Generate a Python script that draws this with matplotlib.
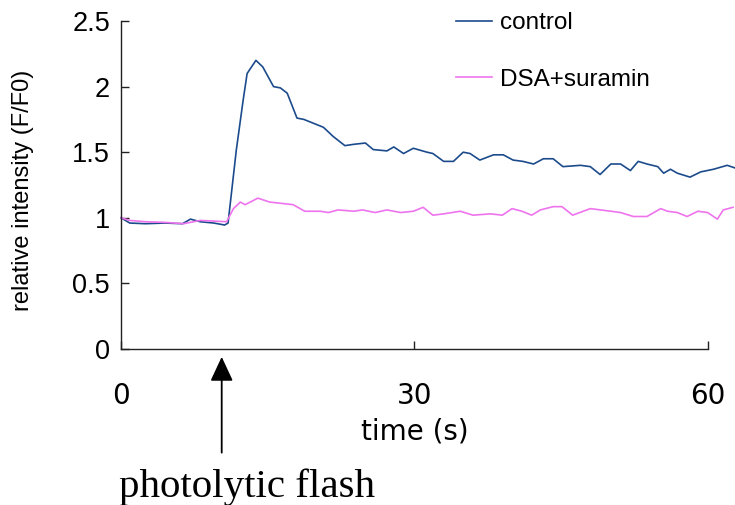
import matplotlib
matplotlib.use('Agg')
import matplotlib.pyplot as plt

# time (s) and F/F0
t_control = [0, 0.9, 2.5, 4.5, 6.3, 7.1, 8.1, 9.5, 10.6, 10.95,
             11.8, 12.5, 12.9, 13.8, 14.5, 15.6, 16.3, 17.0, 18.0, 18.7,
             20.7, 21.7, 22.9, 23.8, 25.0, 25.8, 27.2, 27.9, 28.9, 29.9,
             31.3, 31.9, 33.0, 34.0, 35.0, 35.7, 36.7, 38.1, 39.1, 40.1,
             41.1, 42.2, 43.2, 44.2, 45.2, 47.0, 48.0, 49.0, 50.1, 51.1,
             52.1, 52.9, 53.8, 54.9, 55.5, 56.2, 56.9, 58.2, 59.3, 60.6,
             62.0, 62.8]
control = [1.00, 0.96, 0.955, 0.96, 0.955, 0.99, 0.97, 0.96, 0.945, 0.96,
           1.52, 1.90, 2.10, 2.20, 2.15, 2.00, 1.99, 1.95, 1.76, 1.75,
           1.69, 1.62, 1.55, 1.56, 1.57, 1.52, 1.51, 1.54, 1.49, 1.53,
           1.50, 1.49, 1.43, 1.43, 1.50, 1.49, 1.44, 1.48, 1.48, 1.44,
           1.43, 1.41, 1.45, 1.45, 1.39, 1.40, 1.39, 1.33, 1.41, 1.41,
           1.36, 1.43, 1.41, 1.39, 1.34, 1.37, 1.34, 1.31, 1.35, 1.37,
           1.40, 1.38]

t_dsa = [0, 0.9, 2.5, 4.5, 6.4, 8.1, 9.5, 10.8,
         11.5, 12.2, 12.7, 14.0, 15.2, 17.6, 18.8, 20.4, 21.2, 22.2,
         23.8, 24.7, 26.0, 27.2, 28.6, 29.9, 30.9, 31.9, 33.0, 34.7,
         36.0, 37.8, 39.0, 40.0, 41.0, 42.0, 42.9, 44.2, 45.1, 46.2,
         48.0, 50.1, 51.1, 52.4, 53.8, 55.2, 55.9, 56.9, 57.9, 59.0,
         60.0, 61.0, 61.6, 62.6]
dsa = [1.00, 0.98, 0.97, 0.965, 0.955, 0.98, 0.975, 0.97,
       1.07, 1.12, 1.10, 1.15, 1.12, 1.10, 1.05, 1.05, 1.04, 1.06,
       1.05, 1.06, 1.04, 1.06, 1.04, 1.05, 1.08, 1.02, 1.03, 1.05,
       1.02, 1.03, 1.02, 1.07, 1.05, 1.02, 1.06, 1.085, 1.085, 1.02,
       1.07, 1.05, 1.04, 1.01, 1.01, 1.07, 1.05, 1.04, 1.01, 1.05,
       1.04, 0.99, 1.06, 1.08]

x_ticks = [0, 30, 60]
y_ticks = [0, 0.5, 1, 1.5, 2, 2.5]
y_ticklabels = ['0', '0.5', '1', '1.5', '2', '2.5']
flash_time = 10.3

fig = plt.figure(figsize=(7.35, 5.05), dpi=100)
ax = fig.add_axes([121 / 735, 156 / 505, 614 / 735, 328 / 505])

ax.plot(t_control, control, color='#1c4b8c', linewidth=1.2, label='control', clip_on=False)
ax.plot(t_dsa, dsa, color='#ee74ee', linewidth=1.2, label='DSA+suramin', clip_on=False)

ax.set_xlim(0, 62.8)
ax.set_ylim(0, 2.5)
ax.spines['top'].set_visible(False)
ax.spines['right'].set_visible(False)
ax.spines['bottom'].set_bounds(0, 60)
ax.spines['left'].set_bounds(0, 2.5)
for s in ('left', 'bottom'):
    ax.spines[s].set_linewidth(1.0)
    ax.spines[s].set_color('#222222')

ax.set_xticks(x_ticks)
ax.set_xticklabels([str(v) for v in x_ticks], fontsize=20, family='DejaVu Sans')
ax.set_yticks(y_ticks)
ax.set_yticklabels(y_ticklabels, fontsize=19.5, family='Liberation Sans')
ax.tick_params(axis='both', direction='in', length=6, width=1.0, color='#222222')
ax.tick_params(axis='x', pad=24)
ax.tick_params(axis='y', pad=8)

ax.set_xlabel('time (s)', fontsize=20, family='DejaVu Sans')
ax.xaxis.set_label_coords(0.479, -0.253)
ax.xaxis.label.set_va('center')
ax.set_ylabel('relative intensity (F/F0)', fontsize=17, family='Liberation Sans')
ax.yaxis.set_label_coords(-0.16, 0.485)
ax.yaxis.label.set_va('center')

leg = ax.legend(loc='upper left', bbox_to_anchor=(456 / 735, 1 - 12 / 505),
                bbox_transform=fig.transFigure, frameon=False,
                prop={'family': 'Liberation Sans', 'size': 17.5},
                handlelength=1.5, handletextpad=0.33, labelspacing=1.42,
                borderpad=0, borderaxespad=0)

ax.annotate('', xy=(flash_time, -0.06), xytext=(flash_time, -0.79),
            arrowprops=dict(arrowstyle='-|>,head_length=1.5,head_width=0.7',
                            mutation_scale=10, color='black', lw=1.3,
                            shrinkA=0, shrinkB=0),
            annotation_clip=False)
ax.text(12.9, -1.05, 'photolytic flash', fontsize=29.5, family='Liberation Serif',
        ha='center', va='center', clip_on=False)

plt.savefig('out.png', dpi=100)
